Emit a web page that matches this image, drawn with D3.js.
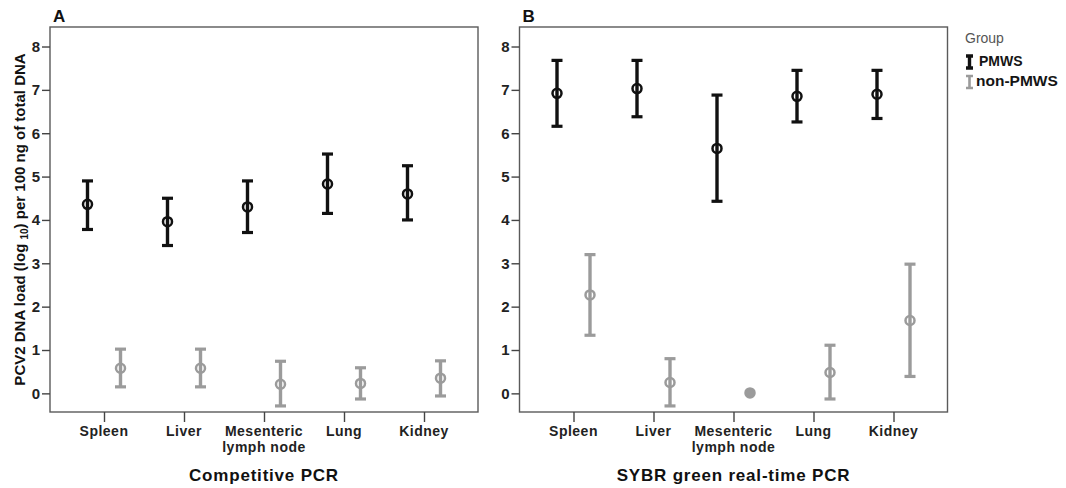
<!DOCTYPE html>
<html>
<head>
<meta charset="utf-8">
<script src="https://cdn.jsdelivr.net/npm/d3@7"></script>
<style>
  body { margin: 0; background: #fff; }
  text { font-family: "Liberation Sans", Arial, sans-serif; }
</style>
</head>
<body>
<svg id="chart" width="1066" height="488"></svg>
<script>
// organs on the x axis
var organs = ['Spleen', 'Liver', 'Mesenteric lymph node', 'Lung', 'Kidney'];
var groups = ['PMWS', 'non-PMWS'];
var yTicks = [0, 1, 2, 3, 4, 5, 6, 7, 8];

// panel A: competitive PCR (mean, lower, upper of the error bar)
var compPmwsMean = [4.36, 3.96, 4.30, 4.83, 4.60];
var compPmwsLow  = [3.78, 3.41, 3.71, 4.15, 4.00];
var compPmwsHigh = [4.90, 4.50, 4.90, 5.52, 5.25];
var compNonMean  = [0.58, 0.58, 0.21, 0.23, 0.35];
var compNonLow   = [0.15, 0.15, -0.29, -0.13, -0.06];
var compNonHigh  = [1.02, 1.02, 0.74, 0.59, 0.75];

// panel B: SYBR green real-time PCR
var sybrPmwsMean = [6.92, 7.03, 5.65, 6.85, 6.90];
var sybrPmwsLow  = [6.16, 6.38, 4.43, 6.26, 6.34];
var sybrPmwsHigh = [7.68, 7.68, 6.88, 7.45, 7.45];
var sybrNonMean  = [2.27, 0.25, 0.01, 0.48, 1.68];
var sybrNonLow   = [1.34, -0.29, 0.01, -0.13, 0.39];
var sybrNonHigh  = [3.20, 0.80, 0.01, 1.11, 2.98];

var colors = { 'PMWS': '#111', 'non-PMWS': '#9b9b9b' };
var svg = d3.select('#chart');
var plotTop = 27, plotBottom = 412, plotW = 428;

var y = d3.scaleLinear().domain([-0.43, 8.45]).range([plotBottom, plotTop]);

function rows(mean, low, high, group) {
    return organs.map(function(o, i) {
        return { organ: o, group: group, mean: mean[i], low: low[i], high: high[i] };
    });
}

function panel(x0, letter, title, data) {
    var g = svg.append('g').attr('transform', 'translate(' + x0 + ',0)');
    var x = d3.scalePoint().domain(organs).range([0, plotW]).padding(0.675);
    var dodge = d3.scalePoint().domain(groups).range([-16.5, 16.5]);

    g.append('rect')
        .attr('x', 0).attr('y', plotTop)
        .attr('width', plotW).attr('height', plotBottom - plotTop)
        .attr('fill', 'none').attr('stroke', '#5a5a5a').attr('stroke-width', 1.4);

    var ya = g.append('g').call(d3.axisLeft(y).tickValues(yTicks).tickSize(8).tickPadding(2));
    ya.select('.domain').remove();
    ya.selectAll('line').attr('stroke', '#444').attr('stroke-width', 1.4);
    ya.selectAll('text').attr('font-size', 15).attr('font-weight', 'bold')
        .attr('fill', '#222').attr('font-family', '"Liberation Sans", Arial, sans-serif');

    var xa = g.append('g').attr('transform', 'translate(0,' + plotBottom + ')')
        .call(d3.axisBottom(x).tickSize(10).tickFormat(''));
    xa.select('.domain').remove();
    xa.selectAll('line').attr('stroke', '#444').attr('stroke-width', 1.4);

    // category labels, split in two lines where needed
    var lab = g.selectAll('text.cat').data(organs).enter().append('text')
        .attr('class', 'cat')
        .attr('text-anchor', 'middle')
        .attr('font-size', 14).attr('font-weight', 'bold').attr('fill', '#222')
        .attr('letter-spacing', 0.5)
        .attr('transform', function(d) { return 'translate(' + x(d) + ',' + (plotBottom + 23.5) + ')'; });
    lab.each(function(d) {
        var lines = d == 'Mesenteric lymph node' ? ['Mesenteric', 'lymph node'] : [d];
        d3.select(this).selectAll('tspan').data(lines).enter().append('tspan')
            .attr('x', 0).attr('dy', function(l, i) { return i ? 16 : 0; })
            .text(function(l) { return l; });
    });

    g.append('text').attr('x', plotW / 2).attr('y', 480.5)
        .attr('text-anchor', 'middle').attr('font-size', 17).attr('font-weight', 'bold')
        .attr('letter-spacing', 0.8).attr('fill', '#111')
        .text(title);

    g.append('text').attr('x', 3).attr('y', 21.5)
        .attr('font-size', 17).attr('font-weight', 'bold').attr('fill', '#111')
        .text(letter);

    var pts = g.selectAll('g.pt').data(data).enter().append('g')
        .attr('class', 'pt')
        .attr('transform', function(d) { return 'translate(' + (x(d.organ) + dodge(d.group)) + ',0)'; })
        .attr('stroke', function(d) { return colors[d.group]; });

    pts.append('line')
        .attr('y1', function(d) { return y(d.low); })
        .attr('y2', function(d) { return y(d.high); })
        .attr('stroke-width', 3.4);
    pts.selectAll('line.cap')
        .data(function(d) { return d.high > d.low ? [d.low, d.high] : []; })
        .enter().append('line').attr('class', 'cap')
        .attr('x1', -5.5).attr('x2', 5.5)
        .attr('y1', function(v) { return y(v); })
        .attr('y2', function(v) { return y(v); })
        .attr('stroke-width', 3.2);
    pts.append('circle')
        .attr('cy', function(d) { return y(d.mean); })
        .attr('r', 4.5)
        .attr('fill', function(d) { return d.high > d.low ? 'none' : colors[d.group]; })
        .attr('stroke-width', 2.5);
}

panel(50, 'A', 'Competitive PCR',
    rows(compPmwsMean, compPmwsLow, compPmwsHigh, 'PMWS')
        .concat(rows(compNonMean, compNonLow, compNonHigh, 'non-PMWS')));
panel(519.5, 'B', 'SYBR green real-time PCR',
    rows(sybrPmwsMean, sybrPmwsLow, sybrPmwsHigh, 'PMWS')
        .concat(rows(sybrNonMean, sybrNonLow, sybrNonHigh, 'non-PMWS')));

// y axis title with subscript
var yt = svg.append('text')
    .attr('transform', 'translate(25,' + ((plotTop + plotBottom) / 2) + ') rotate(-90)')
    .attr('text-anchor', 'middle').attr('font-size', 15).attr('font-weight', 'bold')
    .attr('fill', '#111');
yt.append('tspan').text('PCV2 DNA load (log ');
yt.append('tspan').attr('font-size', 10).attr('dy', 3).text('10');
yt.append('tspan').attr('dy', -3).text(') per 100 ng of total DNA');

// legend
var leg = svg.append('g').attr('transform', 'translate(965,0)');
leg.append('text').attr('x', 0).attr('y', 43)
    .attr('font-size', 14).attr('fill', '#555').text('Group');
var items = leg.selectAll('g.item').data(groups).enter().append('g')
    .attr('class', 'item')
    .attr('transform', function(d, i) { return 'translate(0,' + (i * 20) + ')'; });
items.append('path')
    .attr('d', 'M1,56H8M4.5,56V68M1,68H8')
    .attr('fill', 'none')
    .attr('stroke', function(d) { return colors[d]; })
    .attr('stroke-width', function(d) { return d == 'PMWS' ? 3.4 : 2.6; });
items.append('text')
    .attr('x', function(d) { return d == 'PMWS' ? 14 : 11; })
    .attr('y', 66)
    .attr('font-size', function(d) { return d == 'PMWS' ? 14 : 15.5; })
    .attr('font-weight', 'bold').attr('fill', '#151515')
    .text(function(d) { return d; });
</script>
</body>
</html>
